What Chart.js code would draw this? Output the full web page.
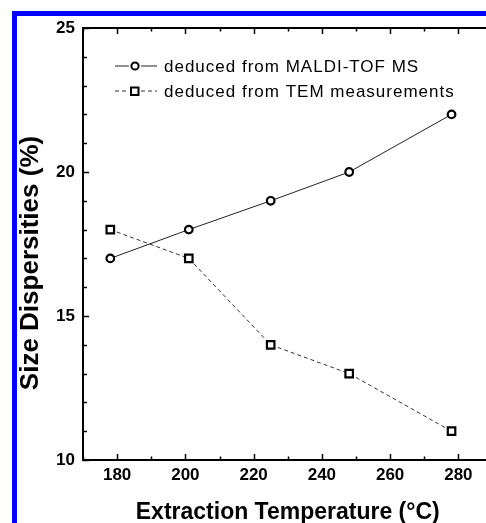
<!DOCTYPE html>
<html>
<head>
<meta charset="utf-8">
<script src="https://cdn.jsdelivr.net/npm/chart.js@4.4.0/dist/chart.umd.min.js"></script>
<style>
  html, body { margin: 0; padding: 0; background: #fff; overflow: hidden; }
  #wrap { position: relative; width: 486px; height: 523px; overflow: hidden; }
  #frame { position: absolute; left: 12px; top: 11px; width: 600px; height: 600px;
           border-top: 5px solid #0000ff; border-left: 5px solid #0000ff; pointer-events: none; }
  canvas { position: absolute; left: 0; top: 0; }
</style>
</head>
<body>
<div id="wrap">
  <canvas id="sizeChart" width="500" height="523"></canvas>
  <div id="frame"></div>
</div>
<script>
// Данные с графика
const temps = [178, 201, 225, 248, 278];
const maldiValues = [17, 18, 19, 20, 22];
const temValues = [18, 17, 14, 13, 11];
const seriesLabels = ['deduced from MALDI-TOF MS', 'deduced from TEM measurements'];
const yTitle = 'Size Dispersities (%)';
const xTitle = 'Extraction Temperature (°C)';

const FONT = 'Arial, "Liberation Sans", Helvetica, sans-serif';

// рамка, внутренние засечки, легенда и подпись оси Y
const decorations = {
    id: 'decorations',
    afterDraw(chart) {
        const ctx = chart.ctx;
        const a = chart.chartArea;
        const xs = chart.scales.x;
        const ys = chart.scales.y;
        ctx.save();
        ctx.strokeStyle = '#000';
        ctx.lineWidth = 2;
        ctx.strokeRect(a.left, a.top, a.right - a.left, a.bottom - a.top);

        ctx.lineWidth = 1.5;
        ctx.beginPath();
        for (let v = xs.min; v <= xs.max; v += 10) {
            const px = Math.round(xs.getPixelForValue(v)) + 0.5;
            const len = v % 20 === 0 ? 6 : 3.5;
            ctx.moveTo(px, a.bottom); ctx.lineTo(px, a.bottom - len);
            ctx.moveTo(px, a.top); ctx.lineTo(px, a.top + len);
        }
        for (let v = ys.min; v <= ys.max; v += 1) {
            const py = Math.round(ys.getPixelForValue(v)) + 0.5;
            const len = v % 5 === 0 ? 6 : 4;
            ctx.moveTo(a.left, py); ctx.lineTo(a.left + len, py);
            ctx.moveTo(a.right, py); ctx.lineTo(a.right - len, py);
        }
        ctx.stroke();

        // легенда
        const rows = [66, 91];
        chart.data.datasets.forEach((ds, i) => {
            const y = rows[i];
            ctx.strokeStyle = ds.borderColor;
            ctx.lineWidth = 1;
            ctx.setLineDash(ds.borderDash || []);
            ctx.beginPath();
            ctx.moveTo(115, y); ctx.lineTo(129, y);
            ctx.moveTo(141, y); ctx.lineTo(157, y);
            ctx.stroke();
            ctx.setLineDash([]);
            ctx.lineWidth = 2;
            ctx.strokeStyle = '#000';
            ctx.fillStyle = '#fff';
            ctx.beginPath();
            if (ds.pointStyle === 'rect') {
                ctx.rect(131, y - 3.5, 7.5, 7.5);
            } else {
                ctx.arc(135, y, 3.6, 0, Math.PI * 2);
            }
            ctx.fill();
            ctx.stroke();
            ctx.fillStyle = '#000';
            ctx.font = '17px ' + FONT;
            ctx.letterSpacing = '1px';
            ctx.textAlign = 'left';
            ctx.textBaseline = 'middle';
            ctx.fillText(ds.label, 164, y + 1);
            ctx.letterSpacing = '0px';
        });

        // подпись оси Y
        ctx.translate(31, 263);
        ctx.rotate(-Math.PI / 2);
        ctx.fillStyle = '#000';
        ctx.font = 'bold 26px ' + FONT;
        ctx.textAlign = 'center';
        ctx.textBaseline = 'middle';
        ctx.fillText(yTitle, 0, 0);
        ctx.restore();
    }
};

const ctx = document.getElementById('sizeChart').getContext('2d');
new Chart(ctx, {
    type: 'line',
    data: {
        datasets: [{
            label: seriesLabels[0],
            data: temps.map((t, i) => ({ x: t, y: maldiValues[i] })),
            borderColor: '#222',
            borderWidth: 1,
            pointStyle: 'circle',
            pointRadius: 3.8,
            pointBorderWidth: 2.2,
            pointBorderColor: '#000',
            pointBackgroundColor: '#fff',
            tension: 0
        }, {
            label: seriesLabels[1],
            data: temps.map((t, i) => ({ x: t, y: temValues[i] })),
            borderColor: '#333',
            borderWidth: 1,
            borderDash: [4, 3],
            pointStyle: 'rect',
            pointRadius: 5.3,
            pointBorderWidth: 2.2,
            pointBorderColor: '#000',
            pointBackgroundColor: '#fff',
            tension: 0
        }]
    },
    options: {
        responsive: false,
        animation: false,
        layout: { padding: { top: 28, right: 5, left: 0, bottom: 0 } },
        plugins: {
            legend: { display: false },
            tooltip: { enabled: false }
        },
        scales: {
            x: {
                type: 'linear',
                min: 170,
                max: 290,
                grid: { display: false, drawTicks: false },
                border: { display: false },
                ticks: {
                    stepSize: 10,
                    autoSkip: false,
                    maxRotation: 0,
                    padding: 5,
                    color: '#000',
                    font: { family: FONT, size: 17, weight: 'bold' },
                    callback: v => (v % 20 === 0 && v >= 180 && v <= 280) ? String(v) : ''
                },
                title: {
                    display: true,
                    text: xTitle,
                    color: '#000',
                    font: { family: FONT, size: 23, weight: 'bold', lineHeight: 0.87 },
                    padding: { top: 0, bottom: 0 }
                },
                afterFit: s => { s.height = 63; }
            },
            y: {
                min: 10,
                max: 25,
                grid: { display: false, drawTicks: false },
                border: { display: false },
                ticks: {
                    stepSize: 5,
                    padding: 8,
                    color: '#000',
                    font: { family: FONT, size: 17, weight: 'bold' }
                },
                afterFit: s => { s.width = 83; }
            }
        }
    },
    plugins: [decorations]
});
</script>
</body>
</html>
